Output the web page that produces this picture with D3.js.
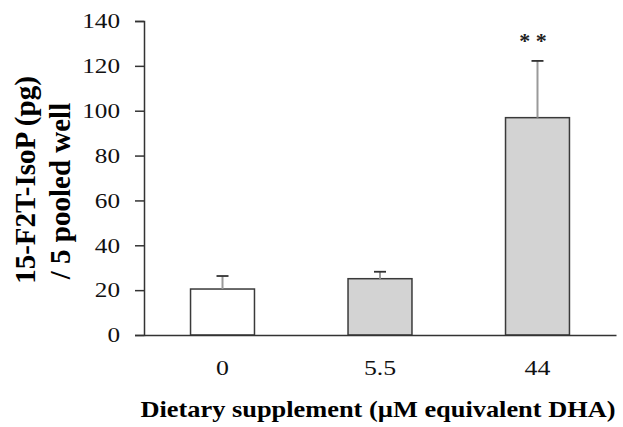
<!DOCTYPE html>
<html>
<head>
<meta charset="utf-8">
<script src="https://cdn.jsdelivr.net/npm/d3@7/dist/d3.min.js"></script>
<style>
  html, body { margin: 0; padding: 0; background: #fff; }
  svg { display: block; }
  text { font-family: "Liberation Serif", "Times New Roman", serif; }
</style>
</head>
<body>
<svg id="chart" width="623" height="427"></svg>
<script>
const categories = ["0", "5.5", "44"];
const means = [20.5, 25.1, 96.9];
const errorsUp = [26.3, 28.2, 122.2];
const fills = ["#ffffff", "#d3d3d3", "#d3d3d3"];
const significance = ["", "", "* *"];
const yTicks = [0, 20, 40, 60, 80, 100, 120, 140];
const yTitleLines = ["15-F2T-IsoP (pg)", "/ 5 pooled well"];
const xTitle = "Dietary supplement (\u00b5M equivalent DHA)";

const svg = d3.select("#chart");
const mLeft = 144, mRight = 616, mTop = 21, mBottom = 335;
const hStretch = 1.2;

const x = d3.scaleBand().domain(categories).range([mLeft, mRight])
  .paddingInner(0.594).paddingOuter(0.2955);
const y = d3.scaleLinear().domain([0, 140]).range([mBottom, mTop]);

function stretch(sel) {
  sel.each(function () {
    const w = this.getComputedTextLength();
    d3.select(this).attr("textLength", w * hStretch).attr("lengthAdjust", "spacingAndGlyphs");
  });
}

// y axis
const yAxis = svg.append("g").attr("transform", `translate(${mLeft},0)`)
  .call(d3.axisLeft(y).tickValues(yTicks).tickSize(9).tickPadding(15).tickFormat(d3.format("d")));
yAxis.select(".domain").attr("stroke", "#333").attr("stroke-width", 1.5);
yAxis.selectAll(".tick line").attr("stroke", "#333").attr("stroke-width", 1.5);
yAxis.selectAll(".tick text").attr("font-size", 21).attr("fill", "#111")
  .style("font-family", "'Liberation Serif', serif").call(stretch);

// bars
const data = categories.map((c, i) => ({c, m: means[i], e: errorsUp[i], f: fills[i], s: significance[i]}));
svg.append("g").selectAll("rect").data(data).join("rect")
  .attr("x", d => x(d.c)).attr("width", x.bandwidth())
  .attr("y", d => y(d.m)).attr("height", d => y(0) - y(d.m))
  .attr("fill", d => d.f).attr("stroke", "#3a3a3a").attr("stroke-width", 1.5);

// error bars
const eb = svg.append("g");
eb.selectAll("line.stem").data(data).join("line").attr("class", "stem")
  .attr("x1", d => x(d.c) + x.bandwidth() / 2).attr("x2", d => x(d.c) + x.bandwidth() / 2)
  .attr("y1", d => y(d.m)).attr("y2", d => y(d.e))
  .attr("stroke", "#9a9a9a").attr("stroke-width", 2);
eb.selectAll("line.cap").data(data).join("line").attr("class", "cap")
  .attr("x1", d => x(d.c) + x.bandwidth() / 2 - 6).attr("x2", d => x(d.c) + x.bandwidth() / 2 + 6)
  .attr("y1", d => y(d.e)).attr("y2", d => y(d.e))
  .attr("stroke", "#333").attr("stroke-width", 1.8);

// significance
svg.append("g").selectAll("text").data(data).join("text")
  .attr("x", d => x(d.c) + x.bandwidth() / 2 - 4.5).attr("y", d => y(d.e) - 13)
  .attr("text-anchor", "middle").attr("font-size", 22).attr("fill", "#222")
  .attr("font-weight", "bold")
  .text(d => d.s);

// x axis
const xAxis = svg.append("g").attr("transform", `translate(0,${mBottom})`)
  .call(d3.axisBottom(x).tickSize(0).tickPadding(25));
xAxis.select(".domain").attr("stroke", "#333").attr("stroke-width", 1.5);
xAxis.selectAll(".tick text").attr("font-size", 21.5).attr("fill", "#111")
  .style("font-family", "'Liberation Serif', serif").call(stretch);

// x title
svg.append("text").attr("x", 378).attr("y", 417).attr("text-anchor", "middle")
  .attr("font-size", 23.5).attr("font-weight", "bold").attr("fill", "#000")
  .attr("textLength", 475).attr("lengthAdjust", "spacingAndGlyphs")
  .text(xTitle);

// y title
const yCenters = [180, 191];
const yBase = [35, 70];
yTitleLines.forEach((t, i) => {
  svg.append("text")
    .attr("transform", `translate(${yBase[i]},${yCenters[i]}) rotate(-90)`)
    .attr("text-anchor", "middle").attr("font-size", 29).attr("font-weight", "bold")
    .attr("fill", "#000").text(t);
});
</script>
</body>
</html>
